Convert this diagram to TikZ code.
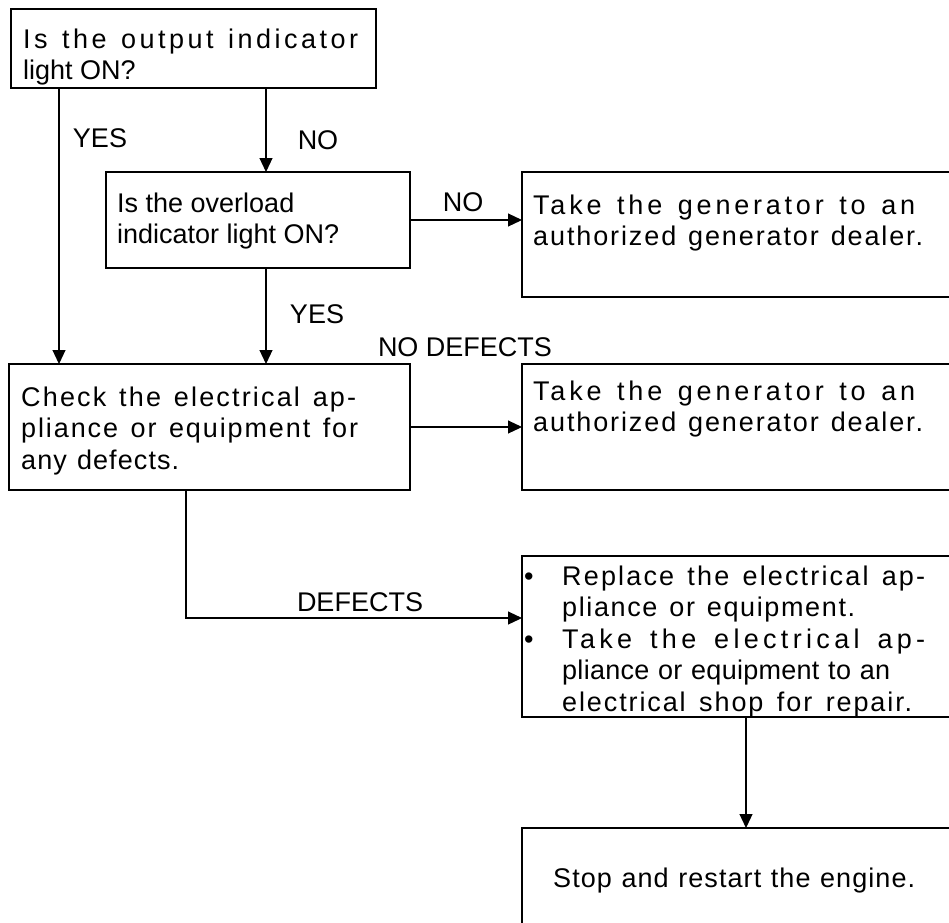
\documentclass[tikz,border=0pt]{standalone}
\usepackage{fontspec}
\setmainfont{Liberation Sans}
\usetikzlibrary{arrows.meta}
% one justified line: width, tracking, text
\newcommand{\jl}[3]{\makebox[#1pt][s]{\addfontfeatures{LetterSpace=#2}#3}}
\newcommand{\bul}{\makebox[38pt][l]{\textbullet}}
\newcommand{\ind}{\hspace*{38pt}}
\tikzset{
  box/.style = {rectangle, draw=black, line width=1.3pt, anchor=north west,
                inner sep=0pt, outer sep=0pt},
  txt/.style = {anchor=base west, inner sep=0pt, font=\fontsize{27}{31.5}\selectfont},
  lbl/.style = {inner sep=0pt, font=\fontsize{27}{31.5}\selectfont},
  ar/.style  = {-{Triangle[length=14pt,width=13pt]}, line width=1.1pt},
}

\begin{document}
\begin{tikzpicture}[x=1pt, y=-1pt]

  \useasboundingbox (0,0) rectangle (949,922);
  \clip (0,0) rectangle (949,922);

  % boxes
  \node[box, minimum width=365pt, minimum height=79pt]  (q1)    at (11,9)    {};
  \node[box, minimum width=304pt, minimum height=96pt]  (q2)    at (106,172) {};
  \node[box, minimum width=448pt, minimum height=125pt] (deal1) at (522,172) {};
  \node[box, minimum width=401pt, minimum height=126pt] (check) at (9,364)   {};
  \node[box, minimum width=448pt, minimum height=126pt] (deal2) at (522,364) {};
  \node[box, minimum width=448pt, minimum height=161pt] (fix)   at (522,556) {};
  \node[box, minimum width=448pt, minimum height=110pt] (stop)  at (522,828) {};

  % texts
  \node[txt] (q1txt) at (23,48)
       {\begin{tabular}[t]{@{}l@{}}\jl{335}{13}{Is the output indicator}\\light ON?\end{tabular}};
  \node[txt] (q2txt) at (117,212)
       {\begin{tabular}[t]{@{}l@{}}Is the overload\\indicator light ON?\end{tabular}};
  \node[txt] (deal1txt) at (533,214)
       {\begin{tabular}[t]{@{}l@{}}\jl{382}{14}{Take the generator to an}\\\jl{390}{7}{authorized generator dealer.}\end{tabular}};
  \node[txt] (checktxt) at (21,406)
       {\begin{tabular}[t]{@{}l@{}}\jl{335}{8}{Check the electrical ap-}\\\jl{337}{7}{pliance or equipment for}\\\jl{158}{4}{any defects.}\end{tabular}};
  \node[txt] (deal2txt) at (533,400)
       {\begin{tabular}[t]{@{}l@{}}\jl{382}{14}{Take the generator to an}\\\jl{390}{7}{authorized generator dealer.}\end{tabular}};
  \node[txt] (fixtxt) at (524,585)
       {\begin{tabular}[t]{@{}l@{}}\bul\jl{363}{8}{Replace the electrical ap-}\\\ind\jl{293}{6}{pliance or equipment.}\\
        \bul\jl{363}{16}{Take the electrical ap-}\\\ind\jl{328}{1}{pliance or equipment to an}\\\ind\jl{350}{7}{electrical shop for repair.}\end{tabular}};
  \node[txt] (stoptxt) at (553,887) {\jl{362}{4}{Stop and restart the engine.}};

  % labels
  \node[lbl] (yes1)  at (100,138) {YES};
  \node[lbl] (no1)   at (318,140) {NO};
  \node[lbl] (no2)   at (463,202) {NO};
  \node[lbl] (yes2)  at (317,314) {YES};
  \node[lbl] (nodef) at (465,347) {NO DEFECTS};
  \node[lbl] (def)   at (360,602) {DEFECTS};

  % connectors
  \coordinate (yescol) at (59,0);
  \coordinate (nocol) at (266,0);
  \coordinate (defbend) at (186,618);
  \draw[ar] (yescol |- q1.south) -- (yescol |- check.north);
  \draw[ar] (nocol |- q1.south) -- (nocol |- q2.north);
  \draw[ar] (q2.east) -- (q2.east -| deal1.west);
  \draw[ar] (nocol |- q2.south) -- (nocol |- check.north);
  \draw[ar] (check.east) -- (check.east -| deal2.west);
  \draw[ar] (defbend |- check.south) -- (defbend) -- (defbend -| fix.west);
  \draw[ar] (fix.south) -- (stop.north);

\end{tikzpicture}
\end{document}
